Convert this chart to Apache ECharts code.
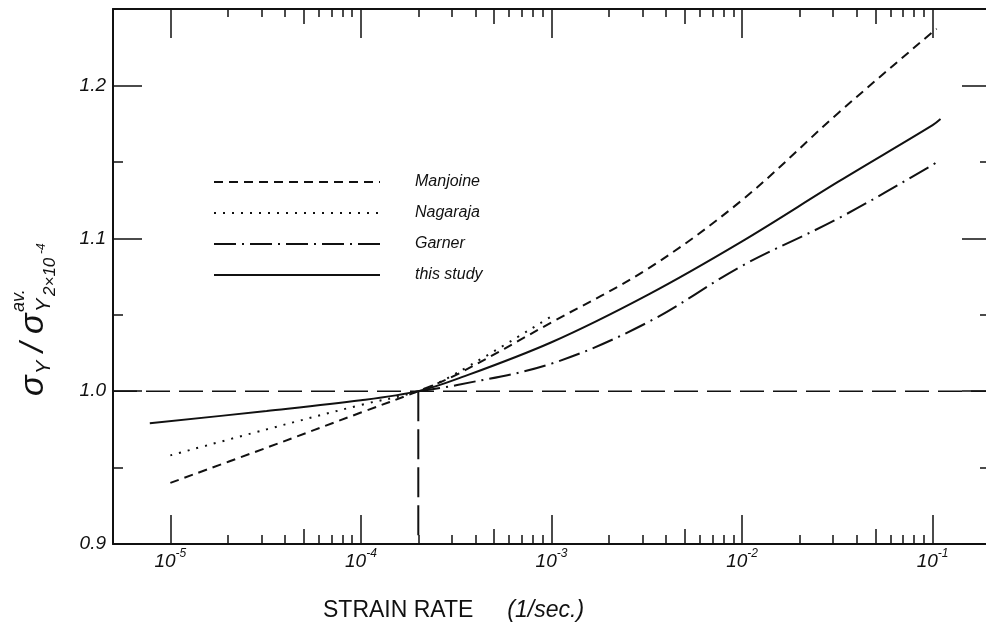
<!DOCTYPE html>
<html>
<head>
<meta charset="utf-8">
<script src="https://cdn.jsdelivr.net/npm/echarts@6/dist/echarts.min.js"></script>
<style>
  html, body { margin: 0; padding: 0; background: #fff; }
  #chart { width: 986px; height: 632px; }
</style>
</head>
<body>
<div id="chart"></div>
<script>
// strain rate (1/sec) vs normalized yield stress
const manjoineRate = [1e-5, 3.2e-5, 1e-4, 2e-4, 3.2e-4, 1e-3, 3.2e-3, 1e-2, 3.2e-2, 1e-1, 1.05e-1]
const manjoineVal = [0.940, 0.963, 0.986, 1.000, 1.011, 1.045, 1.080, 1.125, 1.182, 1.235, 1.237]

const nagarajaRate = [1e-5, 3.2e-5, 1e-4, 2e-4, 3.2e-4, 1e-3]
const nagarajaVal = [0.958, 0.975, 0.991, 1.000, 1.012, 1.049]

const garnerRate = [2e-4, 3.2e-4, 1e-3, 3.2e-3, 1e-2, 3.2e-2, 1e-1, 1.05e-1]
const garnerVal = [1.000, 1.004, 1.018, 1.045, 1.082, 1.113, 1.148, 1.150]

const studyRate = [7.8e-6, 3.2e-5, 1e-4, 2e-4, 3.2e-4, 1e-3, 3.2e-3, 1e-2, 3.2e-2, 1e-1, 1.1e-1]
const studyVal = [0.979, 0.987, 0.994, 1.000, 1.008, 1.032, 1.063, 1.098, 1.137, 1.174, 1.178]

// reference lines: sigma/sigma(2e-4) = 1 and rate = 2e-4
const refRate = 2e-4
const refLevel = 1.0

// axis ticks
const rateRange = [5e-6, 0.2]
const decadeTicks = [1e-5, 1e-4, 1e-3, 1e-2, 1e-1]
const halfTicks = [5e-5, 5e-4, 5e-3, 5e-2]
const minorTicks = [2e-5, 3e-5, 4e-5, 6e-5, 7e-5, 8e-5, 9e-5,
  2e-4, 3e-4, 4e-4, 6e-4, 7e-4, 8e-4, 9e-4,
  2e-3, 3e-3, 4e-3, 6e-3, 7e-3, 8e-3, 9e-3,
  2e-2, 3e-2, 4e-2, 6e-2, 7e-2, 8e-2, 9e-2]
const yRange = [0.9, 1.25]
const yMajor = [0.9, 1.0, 1.1, 1.2]
const yMinor = [0.95, 1.05, 1.15]

const INK = '#111'
const FONT = '"Liberation Sans", Arial, sans-serif'
const lg = Math.log10

const chart = echarts.init(document.getElementById('chart'))

function xAx(pos, ticks, len, withLine, withLabel) {
  return {
    type: 'value', position: pos, min: lg(rateRange[0]), max: lg(rateRange[1]),
    axisLine: { show: withLine, onZero: false, lineStyle: { color: INK, width: 2 } },
    axisTick: { show: true, inside: true, length: len, customValues: ticks.map(lg), lineStyle: { color: INK, width: 1.5 } },
    axisLabel: withLabel ? {
      show: true, margin: 4, customValues: ticks.map(lg),
      formatter: v => '{b|10}{s|' + Math.round(v) + '}',
      rich: {
        b: { fontSize: 19, fontStyle: 'italic', fontFamily: FONT, color: INK, lineHeight: 20, padding: [8, 0, 0, 0] },
        s: { fontSize: 12, fontStyle: 'italic', fontFamily: FONT, color: INK, lineHeight: 12, verticalAlign: 'top' }
      }
    } : { show: false },
    splitLine: { show: false }
  }
}

function yAx(pos, ticks, len, withLine, withLabel) {
  return {
    type: 'value', position: pos, min: yRange[0], max: yRange[1],
    axisLine: { show: withLine, onZero: false, lineStyle: { color: INK, width: 2 } },
    axisTick: { show: true, inside: true, length: len, customValues: ticks, lineStyle: { color: INK, width: 1.5 } },
    axisLabel: withLabel ? {
      show: true, margin: 7, customValues: ticks,
      formatter: v => v.toFixed(1),
      fontSize: 19, fontStyle: 'italic', fontFamily: FONT, color: INK
    } : { show: false },
    splitLine: { show: false }
  }
}

function curve(name, rates, vals, dash) {
  return {
    name, type: 'line', smooth: 0.35, symbol: 'none', z: 3,
    data: rates.map((r, i) => [lg(r), vals[i]]),
    itemStyle: { color: INK },
    lineStyle: { color: INK, width: 2, type: dash }
  }
}

const ytxt = (t, x, y, size) => ({
  type: 'text', x, y,
  style: { text: t, fill: INK, fontSize: size, fontStyle: 'italic', fontFamily: FONT, verticalAlign: 'middle' }
})

chart.setOption({
  animation: false,
  backgroundColor: '#fff',
  grid: { left: 113, right: -4, top: 9, bottom: 88, outerBoundsMode: 'none', containLabel: false },
  title: {
    text: '{a|STRAIN RATE}{b|(1/sec.)}', left: 318, top: 594,
    textStyle: {
      fontWeight: 'normal',
      rich: {
        a: { fontSize: 23, fontWeight: 'normal', fontFamily: FONT, color: INK },
        b: { fontSize: 23, fontWeight: 'normal', fontFamily: FONT, fontStyle: 'italic', color: INK, padding: [0, 0, 0, 34] }
      }
    }
  },
  legend: {
    left: 208, top: 169, orient: 'vertical',
    itemWidth: 166, itemHeight: 14, itemGap: 15,
    data: ['Manjoine', 'Nagaraja', 'Garner', 'this study'],
    itemStyle: { opacity: 0 },
    textStyle: { fontSize: 16, fontStyle: 'italic', fontFamily: FONT, color: INK, padding: [0, 0, 0, 30] }
  },
  xAxis: [
    xAx('bottom', decadeTicks, 29, true, true),
    xAx('bottom', minorTicks, 9, false, false),
    xAx('bottom', halfTicks, 15, false, false),
    xAx('top', decadeTicks, 29, true, false),
    xAx('top', minorTicks, 8, false, false),
    xAx('top', halfTicks, 15, false, false)
  ],
  yAxis: [
    yAx('left', yMajor, 29, true, true),
    yAx('left', yMinor, 10, false, false),
    yAx('right', yMajor, 28, true, false),
    yAx('right', yMinor, 10, false, false)
  ],
  graphic: [{
    type: 'group', x: 34, y: 396, rotation: Math.PI / 2,
    children: [
      ytxt('σ', 0, 0, 34),
      ytxt('Y', 22, 10, 20),
      ytxt('/', 44, 0, 34),
      ytxt('σ', 62, 0, 34),
      ytxt('Y', 84, 10, 20),
      ytxt('2×10', 100, 16, 17),
      ytxt('-4', 142, 8, 12),
      ytxt('av.', 84, -15, 18)
    ]
  }],
  series: [
    {
      type: 'line', symbol: 'none', silent: true, z: 2,
      data: [[lg(rateRange[0]), refLevel], [lg(rateRange[1]), refLevel]],
      lineStyle: { color: INK, width: 1.5, type: [24, 9] }
    },
    {
      type: 'line', symbol: 'none', silent: true, z: 2,
      data: [[lg(refRate), refLevel], [lg(refRate), yRange[0]]],
      lineStyle: { color: INK, width: 2, type: [30, 8] }
    },
    curve('Manjoine', manjoineRate, manjoineVal, [9, 6]),
    curve('Nagaraja', nagarajaRate, nagarajaVal, [2, 7]),
    curve('Garner', garnerRate, garnerVal, [22, 6, 2, 6]),
    curve('this study', studyRate, studyVal, 'solid')
  ]
})
</script>
</body>
</html>
